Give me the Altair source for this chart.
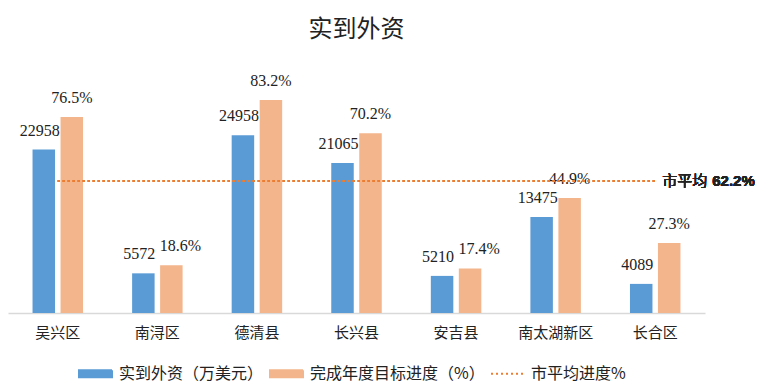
import altair as alt
import pandas as pd

# ---- data ----
categories = ["吴兴区", "南浔区", "德清县", "长兴县", "安吉县", "南太湖新区", "长合区"]
investment = [22958, 5572, 24958, 21065, 5210, 13475, 4089]          # 实到外资（万美元）
progress = [76.5, 18.6, 83.2, 70.2, 17.4, 44.9, 27.3]                # 完成年度目标进度（%）
city_average = 62.2                                                  # 市平均进度%
legend_labels = ["实到外资（万美元）", "完成年度目标进度（%）", "市平均进度%"]
shifted_labels = ["南浔区", "安吉县"]

df = pd.DataFrame({"region": categories, "invest": investment, "progress": progress})
df["invest_label"] = df["invest"].astype(str)
df["progress_label"] = df["progress"].map(lambda v: f"{v:.1f}%")
legend_df = pd.DataFrame({"series": legend_labels})

# ---- style ----
BLUE = "#5B9BD5"
HATCH = "#F3B68C"
ORANGE = "#ED7D31"
TEXT = "#222222"
CJK = "Noto Sans CJK SC"
SERIF = "Liberation Serif"
W, H = 697, 253

x_enc = alt.X(
    "region:N",
    sort=categories,
    scale=alt.Scale(domain=categories, paddingInner=0, paddingOuter=0),
    axis=alt.Axis(
        title=None, labelAngle=0, ticks=False, grid=False,
        domainColor="#D9D9D9", domainWidth=1.5,
        labelFont=CJK, labelFontSize=15, labelColor=TEXT, labelPadding=12,
    ),
)

base = alt.Chart(df)

# blue bars + labels
y_inv = alt.Y("invest:Q", scale=alt.Scale(domain=[0, 35534]), axis=None)
blue_bars = base.mark_bar(color=BLUE, width=22.5, xOffset=-14).encode(x=x_enc, y=y_inv)
blue_text = base.mark_text(
    font=SERIF, fontSize=16, color=TEXT, baseline="middle", dy=-19, xOffset=-14, dx=-4
).encode(x=x_enc, y=y_inv, text="invest_label:N")
blue_group = alt.layer(blue_bars, blue_text)

# orange (hatched) bars + labels
y_pro = alt.Y("progress:Q", scale=alt.Scale(domain=[0, 98.8]), axis=None)
orange_bars = base.mark_bar(color=HATCH, width=22.5, xOffset=14).encode(x=x_enc, y=y_pro)
orange_text = base.mark_text(
    font=SERIF, fontSize=16, color=TEXT, baseline="middle", dy=-19, xOffset=14
).encode(x=x_enc, y=y_pro, text="progress_label:N").transform_filter(
    alt.FieldOneOfPredicate(field="region", oneOf=[c for c in categories if c not in shifted_labels])
)
orange_text_shift = base.mark_text(
    font=SERIF, fontSize=16, color=TEXT, baseline="middle", dy=-19, xOffset=14, dx=9
).encode(x=x_enc, y=y_pro, text="progress_label:N").transform_filter(
    alt.FieldOneOfPredicate(field="region", oneOf=shifted_labels)
)
orange_group = alt.layer(orange_bars, orange_text, orange_text_shift)

# average line + annotation
y_avg_scale = alt.Scale(domain=[0, 119.2])
avg_rule = base.mark_rule(color=ORANGE, strokeWidth=2, strokeDash=[2, 3]).encode(
    x=alt.X(datum=categories[0]),
    x2=alt.X2(datum=categories[-1]),
    y=alt.Y(datum=city_average, scale=y_avg_scale, axis=None),
)
avg_name = base.mark_text(
    font=CJK, fontSize=15, color=TEXT, align="left", baseline="middle", dx=7
).encode(
    x=alt.X(datum=categories[-1]),
    y=alt.Y(datum=city_average, scale=y_avg_scale, axis=None),
    text=alt.value("市平均"),
)
avg_value = base.mark_text(
    font="Liberation Sans", fontSize=15, fontWeight="bold", color=TEXT, align="left",
    baseline="middle", dx=57,
).encode(
    x=alt.X(datum=categories[-1]),
    y=alt.Y(datum=city_average, scale=y_avg_scale, axis=None),
    text=alt.value(f"{city_average:.1f}%"),
)
avg_group = alt.layer(avg_rule, avg_name, avg_value)

# legend (built from an empty layer so only the legend shows)
rect_path = "M-1,-0.212H1V0.212H-1Z"
line_path = "M-1,0H1"
leg = alt.Legend(
    title=None, orient="none", direction="horizontal", legendX=70, legendY=296,
    labelFont=CJK, labelFontSize=16, labelColor=TEXT, labelOffset=6, labelLimit=0,
    columnPadding=2, symbolSize=1089, symbolStrokeWidth=2, padding=0,
)
legend_layer = alt.Chart(legend_df).mark_point(filled=True, opacity=1).encode(
    x=alt.value(0),
    y=alt.value(0),
    fill=alt.Fill("series:N", sort=legend_labels,
                  scale=alt.Scale(domain=legend_labels, range=[BLUE, HATCH, "transparent"]),
                  legend=leg),
    stroke=alt.Stroke("series:N", sort=legend_labels,
                      scale=alt.Scale(domain=legend_labels, range=[BLUE, HATCH, ORANGE]),
                      legend=leg),
    shape=alt.Shape("series:N", sort=legend_labels,
                    scale=alt.Scale(domain=legend_labels, range=[rect_path, rect_path, line_path]),
                    legend=leg),
    strokeDash=alt.StrokeDash("series:N", sort=legend_labels,
                              scale=alt.Scale(domain=legend_labels, range=[[1, 0], [1, 0], [2, 3]]),
                              legend=leg),
).transform_filter("false")

chart = (
    alt.layer(blue_group, orange_group, avg_group, legend_layer)
    .resolve_scale(y="independent")
    .properties(
        width=W,
        height=H,
        title=alt.TitleParams(
            "实到外资", font=CJK, fontSize=24, fontWeight="normal", color=TEXT,
            anchor="middle", offset=18,
        ),
        autosize=alt.AutoSizeParams(type="none"),
        padding={"left": 0, "top": 52, "right": 55, "bottom": 71},
        background="white",
    )
    .configure_view(stroke=None)
)

chart.save("out.html", embed_options={"renderer": "svg", "actions": False})
